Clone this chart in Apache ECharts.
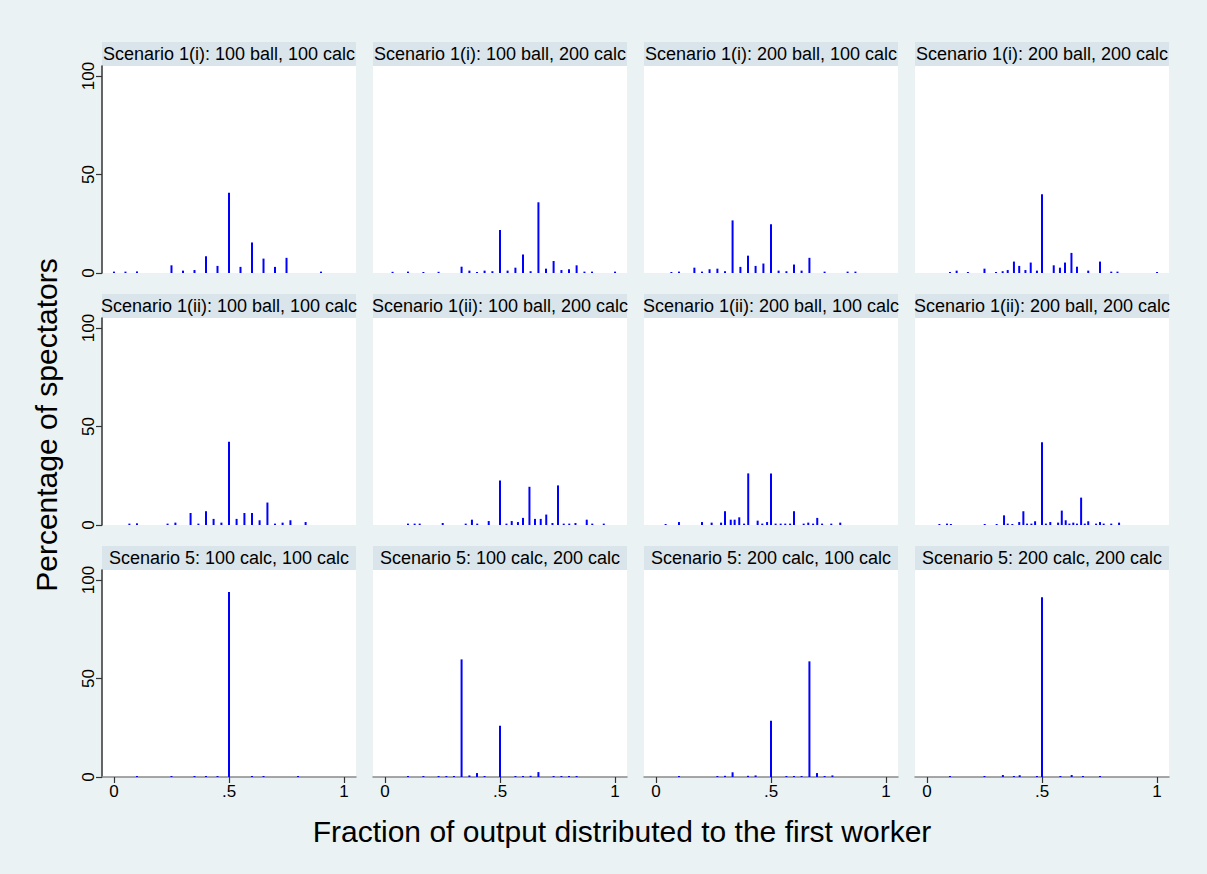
<!DOCTYPE html>
<html>
<head>
<meta charset="utf-8">
<script src="https://cdn.jsdelivr.net/npm/echarts@6/dist/echarts.min.js"></script>
<style>
  html, body { margin: 0; padding: 0; background: #EAF2F3; }
  #chart { width: 1207px; height: 874px; }
</style>
</head>
<body>
<div id="chart"></div>
<script>
// Panel titles, in reading order (3 rows x 4 columns)
const panelTitles = [
  'Scenario 1(i): 100 ball, 100 calc', 'Scenario 1(i): 100 ball, 200 calc',
  'Scenario 1(i): 200 ball, 100 calc', 'Scenario 1(i): 200 ball, 200 calc',
  'Scenario 1(ii): 100 ball, 100 calc', 'Scenario 1(ii): 100 ball, 200 calc',
  'Scenario 1(ii): 200 ball, 100 calc', 'Scenario 1(ii): 200 ball, 200 calc',
  'Scenario 5: 100 calc, 100 calc', 'Scenario 5: 100 calc, 200 calc',
  'Scenario 5: 200 calc, 100 calc', 'Scenario 5: 200 calc, 200 calc'
];

// Share given to the first worker (x) and percentage of spectators (y), per panel
const s1i_a_share = [0, 0.05, 0.1, 0.25, 0.3, 0.35, 0.4, 0.45, 0.5, 0.55, 0.6, 0.65, 0.7, 0.75, 0.9];
const s1i_a_pct   = [0.7, 0.7, 0.8, 3.9, 1.2, 1.5, 8.5, 3.6, 40.7, 3.1, 15.5, 7.3, 3.1, 7.7, 0.7];

const s1i_b_share = [0.033, 0.1, 0.167, 0.233, 0.333, 0.367, 0.4, 0.433, 0.467, 0.5, 0.533, 0.567, 0.6, 0.633, 0.667, 0.7, 0.733, 0.767, 0.8, 0.833, 0.867, 0.9, 1];
const s1i_b_pct   = [0.6, 0.7, 0.5, 0.6, 3.2, 1.2, 0.5, 1.2, 0.9, 21.8, 1.2, 2.7, 9.4, 0.9, 35.9, 2.2, 6.1, 1.5, 1.9, 3.9, 0.7, 0.7, 0.7];

const s1i_c_share = [0.067, 0.1, 0.167, 0.2, 0.233, 0.267, 0.3, 0.333, 0.367, 0.4, 0.433, 0.467, 0.5, 0.533, 0.567, 0.6, 0.633, 0.667, 0.733, 0.833, 0.867];
const s1i_c_pct   = [0.5, 0.7, 2.7, 0.7, 1.9, 2.2, 0.9, 26.7, 3.1, 8.8, 3.6, 4.8, 24.7, 1.2, 0.9, 4.3, 1.2, 7.7, 0.7, 0.7, 0.7];

const s1i_d_share = [0.1, 0.129, 0.178, 0.25, 0.3, 0.329, 0.351, 0.378, 0.401, 0.428, 0.451, 0.478, 0.5, 0.551, 0.578, 0.6, 0.628, 0.652, 0.701, 0.752, 0.801, 0.828, 1];
const s1i_d_pct   = [0.5, 1.2, 0.5, 2.2, 0.5, 0.9, 1.5, 5.8, 3.6, 1.5, 5.3, 1.2, 40.0, 3.9, 2.7, 5.3, 10.2, 3.2, 1.2, 5.8, 0.7, 0.7, 0.5];

const s1ii_a_share = [0.067, 0.1, 0.233, 0.267, 0.333, 0.367, 0.4, 0.433, 0.467, 0.5, 0.533, 0.567, 0.6, 0.633, 0.667, 0.7, 0.733, 0.767, 0.833];
const s1ii_a_pct   = [0.7, 0.85, 0.7, 1.2, 6.1, 0.7, 7.0, 3.1, 1.2, 42.3, 3.1, 6.1, 6.1, 2.4, 11.4, 0.7, 1.2, 2.4, 1.5];

const s1ii_b_share = [0.1, 0.129, 0.151, 0.251, 0.351, 0.378, 0.401, 0.451, 0.5, 0.528, 0.551, 0.578, 0.6, 0.628, 0.652, 0.677, 0.701, 0.728, 0.752, 0.777, 0.801, 0.828, 0.877, 0.901, 0.951];
const s1ii_b_pct   = [0.7, 0.7, 0.7, 1.0, 0.7, 2.7, 0.7, 2.0, 22.6, 0.7, 2.0, 1.5, 3.6, 19.4, 3.1, 3.1, 5.3, 1.0, 20.1, 0.7, 0.7, 1.0, 2.7, 0.7, 0.7];

const s1ii_c_share = [0.042, 0.1, 0.2, 0.242, 0.283, 0.3, 0.325, 0.342, 0.362, 0.383, 0.401, 0.442, 0.462, 0.483, 0.5, 0.52, 0.542, 0.562, 0.583, 0.6, 0.642, 0.662, 0.683, 0.701, 0.722, 0.762, 0.801];
const s1ii_c_pct   = [0.5, 1.5, 1.5, 1.2, 1.2, 7.0, 2.7, 2.7, 3.9, 0.7, 26.2, 2.2, 0.7, 1.5, 26.2, 0.7, 0.7, 0.7, 0.7, 7.0, 0.7, 1.2, 0.7, 3.6, 0.7, 0.7, 1.2];

const s1ii_d_share = [0.054, 0.087, 0.104, 0.251, 0.303, 0.335, 0.351, 0.371, 0.401, 0.419, 0.435, 0.454, 0.47, 0.5, 0.517, 0.536, 0.57, 0.586, 0.603, 0.619, 0.636, 0.652, 0.67, 0.686, 0.701, 0.735, 0.752, 0.768, 0.801, 0.835];
const s1ii_d_pct   = [0.5, 0.7, 0.5, 0.5, 0.5, 4.9, 0.7, 0.5, 1.5, 7.0, 0.7, 0.7, 1.9, 42.0, 0.7, 1.5, 1.2, 7.3, 2.4, 0.7, 1.2, 0.7, 13.9, 0.7, 1.9, 0.7, 1.5, 0.7, 0.7, 1.2];

const s5_a_share = [0.1, 0.25, 0.35, 0.4, 0.45, 0.5, 0.6, 0.65, 0.8];
const s5_a_pct   = [0.5, 0.5, 0.5, 0.5, 0.5, 93.9, 0.5, 0.5, 0.5];

const s5_b_share = [0.1, 0.167, 0.233, 0.267, 0.3, 0.333, 0.367, 0.4, 0.433, 0.5, 0.567, 0.6, 0.633, 0.667, 0.733, 0.767, 0.8, 0.833];
const s5_b_pct   = [0.5, 0.5, 0.5, 0.5, 0.5, 59.7, 0.8, 2.0, 0.5, 26.0, 0.5, 0.5, 0.6, 2.5, 0.5, 0.5, 0.5, 0.5];

const s5_c_share = [0.1, 0.267, 0.3, 0.333, 0.4, 0.433, 0.5, 0.567, 0.6, 0.633, 0.667, 0.7, 0.733, 0.767];
const s5_c_pct   = [0.5, 0.5, 0.6, 2.4, 0.6, 0.8, 28.6, 0.5, 0.5, 0.5, 58.7, 2.0, 0.5, 0.8];

const s5_d_share = [0.1, 0.25, 0.33, 0.378, 0.403, 0.478, 0.5, 0.58, 0.629, 0.678, 0.752];
const s5_d_pct   = [0.5, 0.5, 1.0, 0.5, 0.9, 0.5, 91.3, 0.5, 1.0, 0.5, 0.5];

// Axis ticks and labels
const xTicks = [0, 0.5, 1];
const xTickLabels = ['0', '.5', '1'];
const yTicks = [0, 50, 100];
const xAxisTitle = 'Fraction of output distributed to the first worker';
const yAxisTitle = 'Percentage of spectators';

const panelShares = [s1i_a_share, s1i_b_share, s1i_c_share, s1i_d_share,
                     s1ii_a_share, s1ii_b_share, s1ii_c_share, s1ii_d_share,
                     s5_a_share, s5_b_share, s5_c_share, s5_d_share];
const panelPcts = [s1i_a_pct, s1i_b_pct, s1i_c_pct, s1i_d_pct,
                   s1ii_a_pct, s1ii_b_pct, s1ii_c_pct, s1ii_d_pct,
                   s5_a_pct, s5_b_pct, s5_c_pct, s5_d_pct];

// Layout of the small multiples
const colLeft = [102, 373, 644, 915];
const rowTop = [66, 318, 570];
const plotW = 254;
const plotH = 207;
const stripH = 24;
const FONT = '"Liberation Sans", Arial, Helvetica, sans-serif';

const grids = [], xAxes = [], yAxes = [], series = [], graphics = [];

panelTitles.forEach((title, i) => {
  const row = Math.floor(i / 4), col = i % 4;
  const left = colLeft[col], top = rowTop[row];

  grids.push({
    left: left, top: top, width: plotW, height: plotH,
    show: true, backgroundColor: '#ffffff', borderWidth: 0
  });

  xAxes.push({
    gridIndex: i, type: 'value', min: -0.052, max: 1.052,
    show: row === 2,
    axisLine: { show: true, onZero: false, lineStyle: { color: '#8a8a8a', width: 1.5 } },
    axisTick: { show: true, length: 6, customValues: xTicks, lineStyle: { color: '#333', width: 1.2 } },
    axisLabel: {
      customValues: xTicks, margin: 6, fontSize: 17, color: '#000', fontFamily: FONT,
      formatter: v => xTickLabels[xTicks.indexOf(v)] ?? ''
    },
    splitLine: { show: false }
  });

  yAxes.push({
    gridIndex: i, type: 'value', min: 0, max: 100 * plotH / 197,
    show: col === 0,
    axisLine: { show: true, onZero: false, lineStyle: { color: '#333', width: 1.5 } },
    axisTick: { show: true, length: 6, customValues: yTicks, lineStyle: { color: '#333', width: 1.2 } },
    axisLabel: {
      customValues: yTicks, rotate: 90, margin: 5, fontSize: 17, color: '#000', fontFamily: FONT
    },
    splitLine: { show: false }
  });

  series.push({
    type: 'bar', xAxisIndex: i, yAxisIndex: i,
    data: panelShares[i].map((s, k) => [s, panelPcts[i][k]]),
    barWidth: 2,
    itemStyle: { color: '#0000ff' },
    silent: true
  });

  // title strip above each panel
  graphics.push({
    type: 'rect', silent: true,
    shape: { x: left, y: top - stripH, width: plotW, height: stripH },
    style: { fill: '#D9E5EA' }
  });
  graphics.push({
    type: 'text', silent: true, x: left + plotW / 2, y: top - stripH / 2,
    style: { text: title, font: '18px ' + FONT, fill: '#000', textAlign: 'center', textVerticalAlign: 'middle' }
  });
});

graphics.push({
  type: 'text', silent: true, x: 622, y: 831,
  style: { text: xAxisTitle, font: '30px ' + FONT, fill: '#000', textAlign: 'center', textVerticalAlign: 'middle' }
});
graphics.push({
  type: 'text', silent: true, x: 46, y: 425, rotation: Math.PI / 2,
  style: { text: yAxisTitle, font: '30px ' + FONT, fill: '#000', textAlign: 'center', textVerticalAlign: 'middle' }
});

const chart = echarts.init(document.getElementById('chart'), null, { renderer: 'svg' });
chart.setOption({
  backgroundColor: '#EAF2F3',
  animation: false,
  grid: grids,
  xAxis: xAxes,
  yAxis: yAxes,
  series: series,
  graphic: graphics
});
</script>
</body>
</html>
